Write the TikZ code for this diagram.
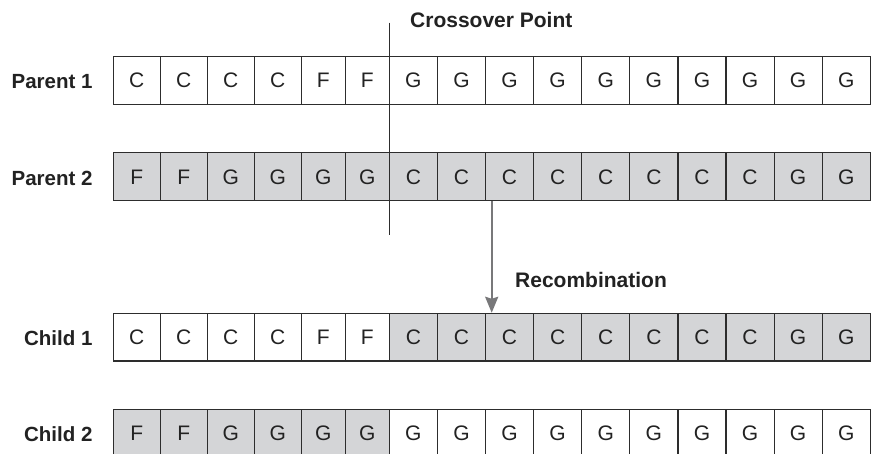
\documentclass[tikz,border=0pt]{standalone}
\usepackage{fontspec}
\setmainfont{Liberation Sans}
\usetikzlibrary{arrows.meta}

\definecolor{cellgray}{RGB}{212,213,215}
\definecolor{linecol}{RGB}{45,45,45}
\definecolor{textcol}{RGB}{34,34,34}
\definecolor{arrowcol}{RGB}{120,120,122}

% cell boundaries along a chromosome (left edge of each gene, plus the last right edge)
\def\cellbounds{{113.3,160.3,207.3,254.3,301.3,345.5,389.3,437.4,485.5,533.6,581.7,629.8,677.9,726.0,774.1,822.2,870.6}}

\tikzset{
  gene/.style={draw=linecol, line width=1.2pt, minimum height=47.6pt, inner sep=0pt,
    text=textcol, font=\fontsize{21}{24}\selectfont, text height=15pt, text depth=0pt},
  rowlabel/.style={anchor=east, inner sep=0pt, text=textcol,
    font=\fontsize{20.5}{24}\selectfont\bfseries, text height=14.7pt, text depth=0pt},
  note/.style={anchor=west, inner sep=0pt, text=textcol,
    font=\fontsize{21}{24}\selectfont\bfseries, text height=15pt, text depth=0pt},
  cutline/.style={draw=linecol, line width=1.5pt},
  recomb/.style={draw=arrowcol, line width=2.2pt,
    -{Stealth[length=16pt, width=13pt, inset=2pt]}},
}

% one chromosome: name prefix, vertical centre, list of letter/fill pairs
\newcommand\chromosome[3]{%
  \foreach \t/\f [count=\i from 0] in {#3} {%
    \pgfmathsetmacro\xl{\cellbounds[\i]}%
    \pgfmathsetmacro\xr{\cellbounds[\i+1]}%
    \node[gene, fill=\f, minimum width={(\xr-\xl)*1pt}] (#1-\i) at ({(\xl+\xr)/2}, #2) {\t};
  }%
}

\begin{document}
\begin{tikzpicture}[x=1pt, y=-1pt]
  \clip (0,0) rectangle (879,454);
  \fill[white] (0,0) rectangle (879,454);

  % chromosomes
  \chromosome{pa}{80.5}{C/white,C/white,C/white,C/white,F/white,F/white,G/white,G/white,G/white,G/white,G/white,G/white,G/white,G/white,G/white,G/white}
  \chromosome{pb}{176.7}{F/cellgray,F/cellgray,G/cellgray,G/cellgray,G/cellgray,G/cellgray,C/cellgray,C/cellgray,C/cellgray,C/cellgray,C/cellgray,C/cellgray,C/cellgray,C/cellgray,G/cellgray,G/cellgray}
  \chromosome{ca}{337.2}{C/white,C/white,C/white,C/white,F/white,F/white,C/cellgray,C/cellgray,C/cellgray,C/cellgray,C/cellgray,C/cellgray,C/cellgray,C/cellgray,G/cellgray,G/cellgray}
  \chromosome{cb}{433.2}{F/cellgray,F/cellgray,G/cellgray,G/cellgray,G/cellgray,G/cellgray,G/white,G/white,G/white,G/white,G/white,G/white,G/white,G/white,G/white,G/white}

  % row labels
  \node[rowlabel] (lpa) at (92.7, 81.5) {Parent 1};
  \node[rowlabel] (lpb) at (92.7, 177.7) {Parent 2};
  \node[rowlabel] (lca) at (92.7, 338.2) {Child 1};
  \node[rowlabel] (lcb) at (92.7, 434.2) {Child 2};

  % crossover cut
  \coordinate (cuttop) at (389.3, 22.7);
  \coordinate (cutbot) at (389.3, 235);
  \draw[cutline] (cuttop) -- (cutbot);
  \node[note] (cross) at (410, 19.7) {Crossover Point};

  % recombination arrow
  \draw[recomb] ([xshift=6.8pt]pb-8.south west) -- ([xshift=6.8pt]ca-8.north west);
  \node[note] (reco) at (515, 280.5) {Recombination};
\end{tikzpicture}
\end{document}
